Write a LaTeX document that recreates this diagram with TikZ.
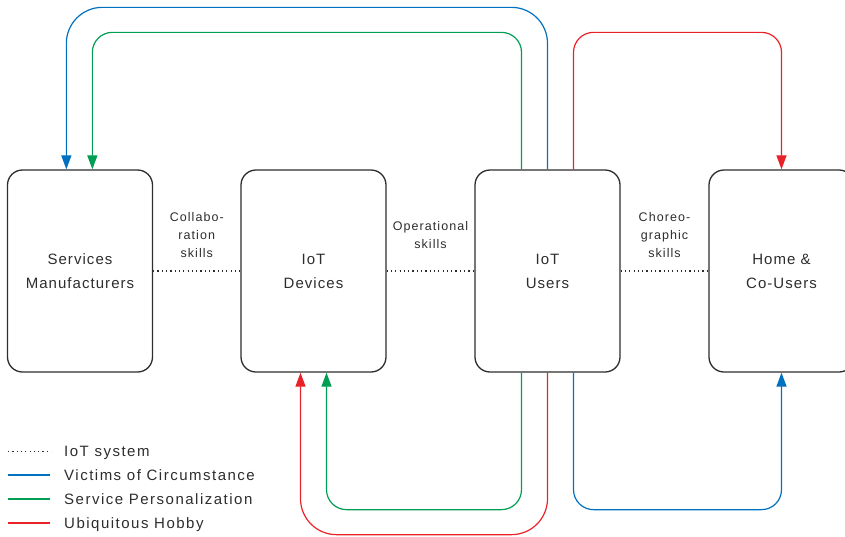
\documentclass[tikz,border=0pt]{standalone}
\usepackage{fontspec}
\setmainfont{Liberation Sans}[LetterSpace=8.5]
\usetikzlibrary{arrows.meta,calc}
\definecolor{cblue}{RGB}{0,112,192}
\definecolor{cgreen}{RGB}{0,158,82}
\definecolor{cred}{RGB}{232,34,40}
\definecolor{ink}{RGB}{45,45,45}
\begin{document}
\begin{tikzpicture}[x=1pt,y=-1pt,
  box/.style={draw=ink, line width=1.3pt, rounded corners=15pt, minimum width=145pt,
    minimum height=202pt, inner sep=0pt, align=center,
    font=\fontsize{15}{24}\selectfont\addfontfeatures{LetterSpace=7}, text=ink},
  skill/.style={align=center, inner sep=0pt, font=\fontsize{12.5}{18.3}\selectfont, text=ink},
  flow/.style={line width=1.2pt, -{Triangle[width=10pt,length=14pt]}},
  sys/.style={draw=ink, line width=1.2pt, dash pattern=on 1.2pt off 3.1pt},
  legline/.style={line width=1.4pt},
  leg/.style={anchor=base west, inner sep=0pt,
    font=\fontsize{15}{18}\selectfont\addfontfeatures{LetterSpace=10}, text=ink}]
\useasboundingbox (0,0) rectangle (845,536);
\clip (0,0) rectangle (845,536);

% boxes
\node[box] (sm)   at (80,271)    {Services\\Manufacturers};
\node[box] (dev)  at (313.5,271) {IoT\\Devices};
\node[box] (usr)  at (547.5,271) {IoT\\Users};
\node[box] (home) at (781.5,271) {Home \&\\Co-Users};

% IoT system links
\draw[sys] (sm.east) -- (dev.west);
\draw[sys] (dev.east) -- (usr.west);
\draw[sys] (usr.east) -- (home.west);

% skill labels
\node[skill] (c1) at ($(sm.east)!.5!(dev.west)+(0,-36)$) {Collabo-\\ration\\skills};
\node[skill] (c2) at ($(dev.east)!.5!(usr.west)+(0,-36)$) {Operational\\skills};
\node[skill] (c3) at ($(usr.east)!.5!(home.west)+(0,-36)$) {Choreo-\\graphic\\skills};

% flows above
\draw[flow, cblue, rounded corners=36pt] (usr.north) -- ++(0,-162) -| ($(sm.north west)+(59.5,0)$);
\draw[flow, cgreen, rounded corners=20pt] ($(usr.north)+(-26,0)$) -- ++(0,-137) -| ($(sm.north west)+(85.5,0)$);
\draw[flow, cred, rounded corners=20pt] ($(usr.north)+(26,0)$) -- ++(0,-137) -| (home.north);

% flows below
\draw[flow, cgreen, rounded corners=20pt] ($(usr.south)+(-26,0)$) -- ++(0,137) -| ($(dev.south)+(13,0)$);
\draw[flow, cred, rounded corners=36pt] (usr.south) -- ++(0,162) -| ($(dev.south)+(-13,0)$);
\draw[flow, cblue, rounded corners=20pt] ($(usr.south)+(26,0)$) -- ++(0,137) -| (home.south);

% legend
\node[leg] (lg1) at (64,456) {IoT system};
\node[leg] (lg2) at (64,480) {Victims of Circumstance};
\node[leg] (lg3) at (64,504) {Service Personalization};
\node[leg] (lg4) at (64,528) {Ubiquitous Hobby};
\coordinate (k1) at (8,451.5);
\coordinate (k2) at (8,475);
\coordinate (k3) at (8,499);
\coordinate (k4) at (8,523);
\draw[sys] (k1) -- ++(43,0);
\draw[legline, cblue] (k2) -- ++(42,0);
\draw[legline, cgreen] (k3) -- ++(42,0);
\draw[legline, cred] (k4) -- ++(42,0);
\end{tikzpicture}
\end{document}
